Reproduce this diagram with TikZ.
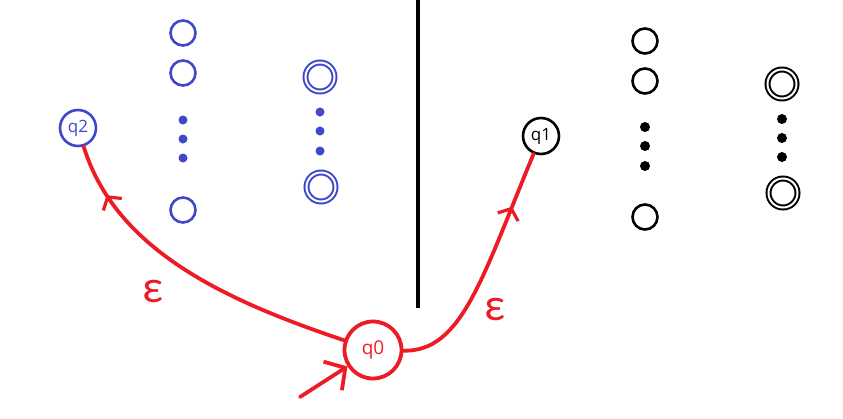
\documentclass[tikz,border=0pt]{standalone}
\usepackage{fontspec}
\setmainfont{Carlito}
\newfontfamily\labelfont{Open Sans}
\usetikzlibrary{arrows.meta,decorations.markings}
\definecolor{pblue}{HTML}{3F48CC}
\definecolor{pred}{HTML}{ED1C24}
\tikzset{
  st/.style={circle, draw, line width=2.6pt, inner sep=0pt, minimum size=#1},
  st/.default=25pt,
  acc/.style={circle, draw, line width=2pt, double=white, double distance=2pt, inner sep=0pt, minimum size=29pt},
  dotn/.style={circle, fill, inner sep=0pt, minimum size=#1},
  dotn/.default=9pt,
  lbl/.style={font=\labelfont\fontsize{17}{19}\selectfont},
  eps/.style={text=pred, font=\fontsize{46}{48}\selectfont},
  redline/.style={draw=pred, line width=3.8pt, line cap=round},
  midarrow/.style={postaction={decorate, decoration={markings,
     mark=at position #1 with {\arrow[pred, line width=3.2pt]{Straight Barb[length=9pt,width=22pt]}}}}}
}
\begin{document}
\begin{tikzpicture}[x=1pt,y=-1pt]
\useasboundingbox (0,0) rectangle (843,418);
% divider
\draw[line width=4pt] (418,0) coordinate (d1) -- (418,308) coordinate (d2);
% blue part
\begin{scope}[pblue]
\node[st=36pt, lbl, text=pblue] (q2) at (78,128) {q2};
\node[st] (b1) at (183,33) {};
\node[st] (b2) at (183,73) {};
\node[dotn] (bd1) at (183,120) {};
\node[dotn] (bd2) at (183,139) {};
\node[dotn] (bd3) at (183,158) {};
\node[st] (b3) at (183,210) {};
\node[acc] (ba1) at (320,77) {};
\node[dotn] (bd4) at (320,112) {};
\node[dotn] (bd5) at (320,131) {};
\node[dotn] (bd6) at (320,151) {};
\node[acc] (ba2) at (321,187) {};
\end{scope}
% black part
\node[st=36pt, lbl] (q1) at (541,136) {q1};
\node[st] (k1) at (645,41) {};
\node[st] (k2) at (645,81) {};
\node[dotn=10pt] (kd1) at (645,127) {};
\node[dotn=10pt] (kd2) at (645,146) {};
\node[dotn=10pt] (kd3) at (645,166) {};
\node[st] (k3) at (645,217) {};
\node[acc] (ka1) at (782,84) {};
\node[dotn=10pt] (kd4) at (782,119) {};
\node[dotn=10pt] (kd5) at (782,138) {};
\node[dotn=10pt] (kd6) at (782,157) {};
\node[acc] (ka2) at (783,193) {};
% red part
\node[st=57pt, draw=pred, line width=3.8pt, font=\labelfont\fontsize{19}{21}\selectfont, text=pred] (q0) at (373,350) {q0};
\coordinate (init) at (300,397);
\draw[redline, -{Straight Barb[length=15pt,width=34pt]}] (init) -- (q0);
\draw[redline, midarrow=0.84] (q0) .. controls (230,302) and (116,252) .. (q2);
\draw[redline, midarrow=0.77] (q0) .. controls (462,352) and (482,278) .. (q1);
\node[eps] (e1) at (153,291) {ε};
\node[eps] (e2) at (495,309) {ε};
\end{tikzpicture}
\end{document}
